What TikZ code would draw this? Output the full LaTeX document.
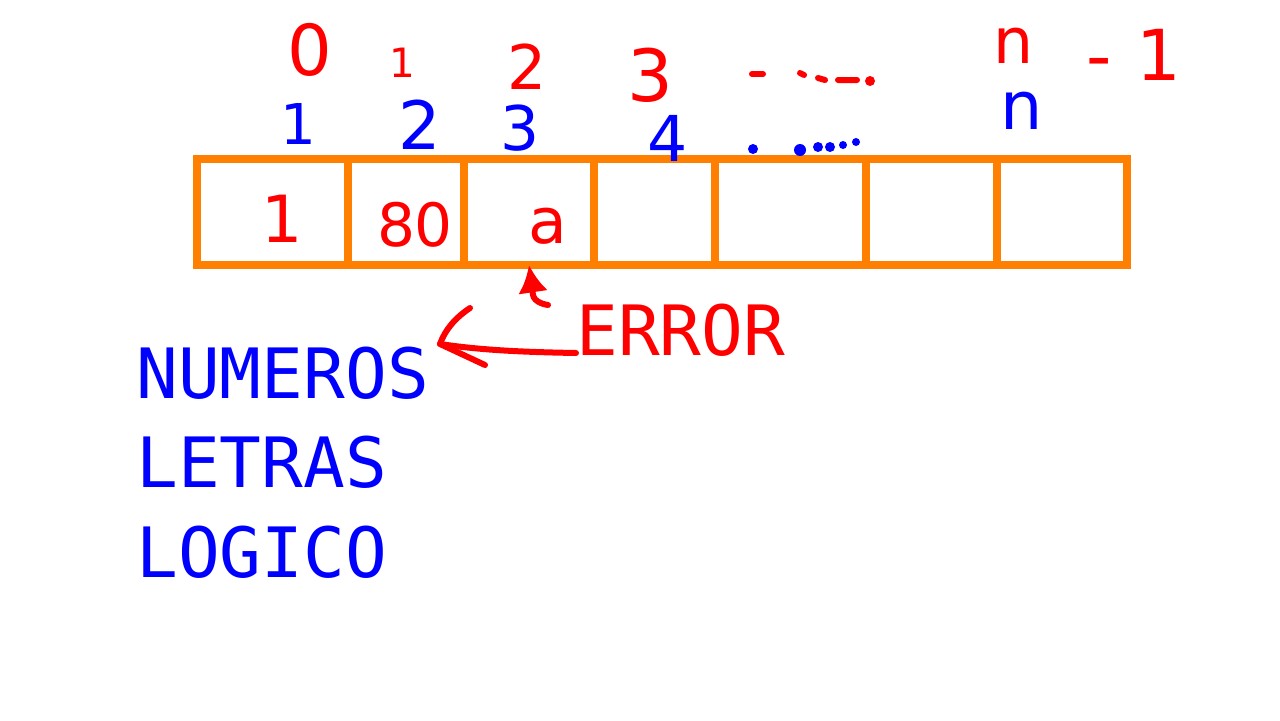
\documentclass[tikz,border=0pt]{standalone}
\usepackage{fontspec}
\setmainfont{DejaVu Sans}
\newfontfamily\wordfont{DejaVu Sans Mono}
\usetikzlibrary{arrows.meta}
\definecolor{boxorange}{RGB}{255,128,0}
\definecolor{inkred}{RGB}{255,0,0}
\definecolor{inkblue}{RGB}{0,0,255}
\tikzset{
  cell/.style={draw=boxorange, line width=0.16cm, inner sep=0pt, outer sep=0pt, minimum height=2.12cm, anchor=north west},
  idxnum/.style={text=inkred, inner sep=0pt},
  posnum/.style={text=inkblue, inner sep=0pt},
  val/.style={text=inkred, inner sep=0pt},
  word/.style={text=inkblue, inner sep=0pt, anchor=west, font=\wordfont\fontsize{39.5}{39.5}\selectfont},
  ink/.style={line width=0.12cm, line cap=round, line join=round}
}
\newcommand{\fs}[1]{\fontsize{#1}{#1}\selectfont}
\begin{document}
\begin{tikzpicture}[x=0.02cm,y=-0.02cm]
    \useasboundingbox (0,0) rectangle (1280,720);

    % celdas del arreglo
    \foreach \a/\b/\n in {197/348/c1, 348/464/c2, 464/594/c3, 594/715/c4, 715/866/c5, 866/997/c6, 997/1127/c7}
        \node[cell, minimum width={(\b-\a)*0.02cm}] (\n) at (\a,159) {};

    % contenido
    \node[val, font=\fs{37}] (v1) at (282,219) {1};
    \node[val, font=\fs{34}] (v2) at (415,225) {80};
    \node[val, font=\fs{36}] (v3) at (548,226) {a};

    % indices desde cero
    \node[idxnum, font=\fs{40}] (i0) at (310,50) {0};
    \node[idxnum, font=\fs{23}] (i1) at (402,63) {1};
    \node[idxnum, font=\fs{35}] (i2) at (527,67) {2};
    \node[idxnum, font=\fs{41}] (i3) at (650,75) {3};
    \node[idxnum, font=\fs{36}] (in) at (1014,46) {n};
    \node[idxnum, font=\fs{40}] (im) at (1134,55) {-\hspace{0.35em}1};
    \draw[ink, inkred] (752,74) -- (763,74);
    \draw[ink, inkred] (800,73) -- (804,75) (818,78) -- (825,80) (838,80) -- (857,80);
    \fill[inkred] (870,81) circle (5);

    % posiciones desde uno
    \node[posnum, font=\fs{32}] (p1) at (298,124) {1};
    \node[posnum, font=\fs{38}] (p2) at (420,125) {2};
    \node[posnum, font=\fs{35}] (p3) at (520,128) {3};
    \node[posnum, font=\fs{36}] (p4) at (668,138) {4};
    \node[posnum, font=\fs{38}] (pn) at (1022,111) {n};
    \foreach \x/\y/\r in {753/149/5, 800/150/6, 818/147/5, 830/147/5, 843/145/4, 856/142/4}
        \fill[inkblue] (\x,\y) circle (\r);

    % tipos
    \node[word] (num) at (136,373) {NUMEROS};
    \node[word] (let) at (136,462) {LETRAS};
    \node[word] (log) at (136,552) {LOGICO};
    \node[word, text=inkred] (err) at (576,330) {ERROR};

    % flechas
    \coordinate (tip) at (440,344);
    \draw[ink, inkred] (err.west |- 0,353) .. controls (520,352) and (480,350) .. (tip);
    \draw[ink, inkred] (470,308) .. controls (455,318) and (445,330) .. (tip) -- (485,365);
    \draw[ink, inkred, -{Latex[length=0.55cm, width=0.6cm]}] (548,305) .. controls (530,302) and (533,292) .. (c3.south);
\end{tikzpicture}
\end{document}
